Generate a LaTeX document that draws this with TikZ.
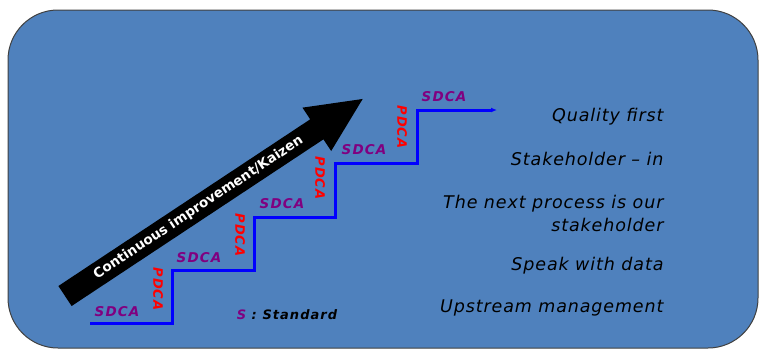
\documentclass[tikz,border=0pt]{standalone}
\usepackage{fontspec}
\setmainfont{DejaVu Sans}
\newfontfamily\cyclefont{DejaVu Sans}[LetterSpace=8]
\newfontfamily\rulefont{DejaVu Sans}[LetterSpace=5]
\usetikzlibrary{arrows.meta}
\definecolor{boxblue}{HTML}{4F81BD}
\definecolor{cyclepurple}{RGB}{128,0,128}
\tikzset{
  stair/.style={blue, line width=3pt},
  sdca/.style={text=cyclepurple, font=\cyclefont\bfseries\itshape\fontsize{13.5}{15}\selectfont},
  pdca/.style={text=red, rotate=-90, font=\cyclefont\bfseries\itshape\fontsize{13}{15}\selectfont},
  rule/.style={anchor=east, align=right, font=\rulefont\itshape\fontsize{17.5}{23}\selectfont},
}
\begin{document}
\begin{tikzpicture}[x=1pt,y=-1pt]
\useasboundingbox (0,0) rectangle (760,351);
\draw[fill=boxblue, draw=black!75, line width=1pt, rounded corners=50pt] (8,10) rectangle (758,348);
% improvement arrow
\begin{scope}[shift={(65,296)}, rotate=33.5]
\fill[black] (0,-12) -- (302,-12) -- (302,-26) -- (357,0) -- (302,26) -- (302,12) -- (0,12) -- cycle;
\node[rotate=33.5, text=white, font=\bfseries\fontsize{13.5}{15}\selectfont] (kaizen) at (160,0) {Continuous improvement/Kaizen};
\end{scope}
% staircase
\coordinate (s0) at (90,323);
\coordinate (s1) at (172,323);
\coordinate (s2) at (172,270);
\coordinate (s3) at (254,270);
\coordinate (s4) at (254,217);
\coordinate (s5) at (335,217);
\coordinate (s6) at (335,163);
\coordinate (s7) at (417,163);
\coordinate (s8) at (417,110);
\coordinate (s9) at (497,110);
\draw[stair, -{Latex[length=6pt,width=5pt]}] (s0) -- (s1) -- (s2) -- (s3) -- (s4) -- (s5) -- (s6) -- (s7) -- (s8) -- (s9);
\node[sdca] (sdca1) at (117,312) {SDCA};
\node[sdca] (sdca2) at (199,258) {SDCA};
\node[sdca] (sdca3) at (282,204) {SDCA};
\node[sdca] (sdca4) at (364,150) {SDCA};
\node[sdca] (sdca5) at (444,97) {SDCA};
\node[pdca] (pdca1) at (158,289) {PDCA};
\node[pdca] (pdca2) at (240,235) {PDCA};
\node[pdca] (pdca3) at (320,178) {PDCA};
\node[pdca] (pdca4) at (402,127) {PDCA};
\node[font=\cyclefont\bfseries\itshape\fontsize{13}{15}\selectfont] (legend) at (287,315) {\textcolor{cyclepurple}{S} : Standard};
% principles
\node[rule] (quality) at (667,117) {Quality first};
\node[rule] (stake) at (667,159) {Stakeholder \textendash{} in};
\node[rule] (nextproc) at (667,213) {The next process is our\\stakeholder};
\node[rule] (data) at (667,266) {Speak with data};
\node[rule] (upstream) at (667,308) {Upstream management};
\end{tikzpicture}
\end{document}
